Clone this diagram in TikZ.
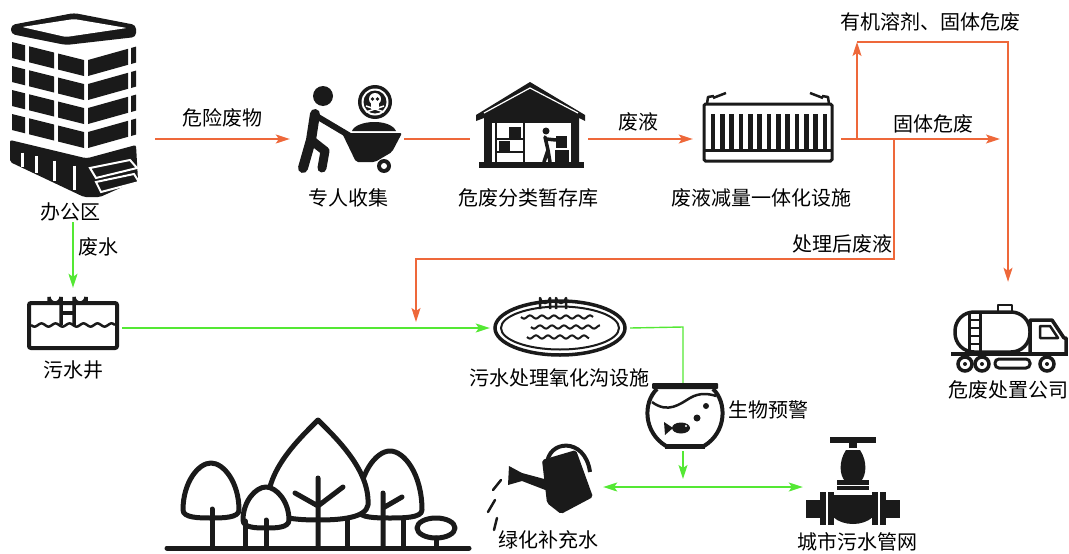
\documentclass[tikz,border=0pt]{standalone}
\usepackage{fontspec}
\newfontfamily\cjk{Noto Sans CJK SC}
\usetikzlibrary{arrows.meta}
\definecolor{hazorange}{RGB}{238,104,58}
\definecolor{wwgreen}{RGB}{84,232,52}
\definecolor{inkblack}{RGB}{26,26,26}
\tikzstyle{port} = [minimum height=10, inner sep=0]
\tikzstyle{caption} = [font=\cjk\fontsize{20}{24}\selectfont, inner sep=0]
\tikzstyle{hazline} = [draw=hazorange, line width=1.4]
\tikzstyle{hazarrow} = [hazline, -{Stealth[length=14pt,width=9pt,inset=3pt]}]
\tikzstyle{wwline} = [draw=wwgreen, line width=1.4]
\tikzstyle{wwarrow} = [wwline, -{Stealth[length=14pt,width=9pt,inset=3pt]}]
\tikzstyle{outline} = [draw=inkblack, line width=3.5, line join=round, line cap=round]
\tikzstyle{treeline} = [draw=inkblack, line width=5, line join=round, line cap=round]
\newcommand{\crown}[4]{\draw[treeline, fill=white] ({#1-#4},{#3-8}) .. controls ({#1-#4},{#2+0.35*(#3-#2)}) and ({#1-0.45*#4},#2) .. (#1,#2) .. controls ({#1+0.45*#4},#2) and ({#1+#4},{#2+0.35*(#3-#2)}) .. ({#1+#4},{#3-8}) .. controls ({#1+#4},#3) and ({#1+0.4*#4},#3) .. (#1,#3) .. controls ({#1-0.4*#4},#3) and ({#1-#4},#3) .. cycle;}

\begin{document}
\begin{tikzpicture}[x=1pt, y=-1pt]
\useasboundingbox (0,0) rectangle (1069,554);

\node (office)[port, minimum width=160] at (75,139) {};
\node (collect)[port, minimum width=114] at (347,139) {};
\node (store)[port, minimum width=118] at (529,139) {};
\node (reducer)[port, minimum width=148] at (767,139) {};
\node (truck)[port, minimum width=118, minimum height=96] at (1008,330) {};
\node (well)[port, minimum width=98, minimum height=80] at (73,328) {};
\node (ditch)[port, minimum width=140] at (560,328) {};
\node (fish)[port, minimum width=70, minimum height=68] at (683,417) {};
\node (can)[port, minimum width=116] at (545,487) {};
\node (valve)[port, minimum width=100] at (853,487) {};

\coordinate (upturn) at (857,139);
\coordinate (downturn) at (894,139);
\coordinate (solidend) at (1000,139);
\coordinate (organictop) at (857,42);
\coordinate (organicright) at (1008,42);
\coordinate (backleft) at (416,259);
\coordinate (backend) at (416,322);
\coordinate (officefoot) at (73,222);
\coordinate (fishturn) at (683,327);
\coordinate (splittop) at (683,479);

\draw[hazarrow] (office.east) -- (collect.west);
\draw[hazline] (collect.east) -- (store.west);
\draw[hazarrow] (store.east) -- (reducer.west);
\draw[hazarrow] (reducer.east) -- (solidend);
\draw[hazarrow] (upturn) -- (organictop);
\draw[hazarrow] (organictop) -- (organicright) -- (truck.north);
\draw[hazarrow] (downturn) -- (downturn |- backleft) -- (backleft) -- (backend);
\draw[wwarrow] (officefoot) -- (well.north);
\draw[wwarrow] (well.east) -- (ditch.west);
\draw[wwline] (ditch.east) -- (fishturn) -- (fish.north);
\draw[wwarrow] (fish.south) -- (splittop);
\draw[wwline, {Stealth[length=14pt,width=9pt,inset=3pt]}-{Stealth[length=14pt,width=9pt,inset=3pt]}] (can.east) -- (valve.west);

\node (officelabel)[caption] at (70,212) {办公区};
\node (hazwastelabel)[caption] at (222,118) {危险废物};
\node (wastewaterlabel)[caption] at (98,247) {废水};
\node (collectlabel)[caption] at (348,198) {专人收集};
\node (storelabel)[caption] at (528,198) {危废分类暂存库};
\node (liquidlabel)[caption] at (638,122) {废液};
\node (reducerlabel)[caption] at (761,198) {废液减量一体化设施};
\node (organiclabel)[caption] at (930,22) {有机溶剂、固体危废};
\node (solidlabel)[caption] at (933,124) {固体危废};
\node (treatedlabel)[caption] at (842,244) {处理后废液};
\node (welllabel)[caption] at (73,370) {污水井};
\node (ditchlabel)[caption] at (559,378) {污水处理氧化沟设施};
\node (fishlabel)[caption] at (768,410) {生物预警};
\node (canlabel)[caption] at (548,540) {绿化补充水};
\node (valvelabel)[caption] at (857,542) {城市污水管网};
\node (trucklabel)[caption] at (1008,390) {危废处置公司};

\fill[inkblack, rounded corners=4] (11,25) -- (74,13) -- (136,25) -- (136,37) -- (66,45) -- (11,34) -- cycle;
\fill[white, rounded corners=2] (22,27) -- (74,19) -- (127,28) -- (66,37) -- cycle;
\foreach \t in {42,66,90,114} {
  \fill[inkblack] (12,\t) -- (25,{\t+3.25}) -- (25,{\t+19.25}) -- (12,{\t+16}) -- cycle;
  \fill[inkblack] (29,{\t+4.25}) -- (54,{\t+10.5}) -- (54,{\t+26.5}) -- (29,{\t+20.25}) -- cycle;
  \fill[inkblack] (58,{\t+11.5}) -- (84,{\t+18}) -- (84,{\t+34}) -- (58,{\t+27.5}) -- cycle;
  \fill[inkblack] (88,{\t+18}) -- (128,{\t+6.8}) -- (128,{\t+22.8}) -- (88,{\t+34}) -- cycle;
  \fill[inkblack] (131,{\t+6}) -- (136,{\t+4.6}) -- (136,{\t+20.6}) -- (131,{\t+22}) -- cycle;
}
\fill[inkblack, rounded corners=2] (10,140) -- (85,158) -- (88,158) -- (136,145) -- (138,180) -- (100,197) -- (84,197) -- (10,162) -- cycle;
\foreach \x in {22,36,54,74}
  \draw[white, line width=3] (\x,{150+0.25*(\x-12)}) -- ++(0,{12+0.2*(\x-12)});
\draw[white, line width=2, fill=inkblack] (90,168) -- (130,160) -- (137,168) -- (96,178) -- cycle;
\draw[white, line width=2, fill=inkblack] (96,182) -- (134,174) -- (139,182) -- (101,192) -- cycle;

\fill[inkblack] (323,96) circle[radius=10];
\draw[inkblack, line width=10, line cap=round, line join=round] (315,114) -- (311,140) -- (303,168);
\draw[inkblack, line width=9, line cap=round, line join=round] (311,140) -- (325,151) -- (322,168);
\draw[inkblack, line width=6, line cap=round] (318,117) -- (350,136);
\fill[inkblack, rounded corners=2] (342,133) -- (402,133) -- (392,152) -- (375,162) -- (356,162) -- cycle;
\fill[inkblack] (384,166) circle[radius=7];
\fill[white] (384,166) circle[radius=3];
\fill[inkblack] (352,131) .. controls (356,120) and (390,118) .. (396,131) -- cycle;
\fill[inkblack] (375,102) circle[radius=17];
\fill[white] (375,102) circle[radius=13.5];
\fill[inkblack] (375,102) circle[radius=11.5];
\fill[white] (375,99) circle[radius=6];
\fill[white] (371,103) rectangle (379,109);
\fill[inkblack] (372.5,99) circle[radius=1.8];
\fill[inkblack] (377.5,99) circle[radius=1.8];
\draw[white, line width=1.5] (366,106) -- (384,112) (366,112) -- (384,106);

\fill[inkblack] (476,115) -- (530,82) -- (585,115) -- (585,121) -- (579,118) -- (579,163) -- (484,163) -- (484,118) -- (476,121) -- cycle;
\fill[white] (492,123) rectangle (571,162);
\draw[white, line width=1.2] (484,113) -- (530,88) -- (578,113);
\fill[inkblack] (479,162) rectangle (584,168);
\draw[inkblack, line width=2] (496,123) -- (496,162) (524,123) -- (524,162) (496,139) -- (524,139) (496,152) -- (524,152);
\fill[inkblack] (509,127) rectangle (521,138);
\fill[inkblack] (499,141) rectangle (510,151);
\fill[inkblack] (546,131) circle[radius=3.5];
\draw[inkblack, line width=3.5, line cap=round, line join=round] (545,137) -- (548,150) -- (544,162) (548,150) -- (550,162) (546,139) -- (556,140);
\fill[inkblack] (556,136) rectangle (567,148);
\fill[inkblack] (555,150) rectangle (569,162);

\draw[inkblack, line width=3, rounded corners=1.5] (704,104) rectangle (832,161);
\draw[inkblack, line width=3] (704,150) -- (832,150);
\foreach \i in {0,...,12}
  \draw[inkblack, line width=4.5] ({713+9.33*\i},114) -- ({713+9.33*\i},150);
\draw[inkblack, line width=2.5, line join=round] (707,104) -- (708,97) -- (714,96) (713,98) -- (726,93);
\draw[inkblack, line width=2.5, line join=round] (829,104) -- (828,97) -- (822,96) (823,98) -- (810,93);

\draw[inkblack, line width=4, rounded corners=2] (29,303) rectangle (117,348);
\draw[inkblack, line width=3.5] (49,303) -- (49,297) arc[start angle=180, end angle=0, radius=6] -- (61,325);
\draw[inkblack, line width=3.5] (74,325) -- (74,297) arc[start angle=180, end angle=0, radius=6] -- (86,303);
\draw[inkblack, line width=3.5] (61,313) -- (74,313);
\draw[inkblack, line width=2.5] plot[domain=31:115, samples=80] (\x,{325+1.6*sin((\x-31)*25.7)});

\draw[inkblack, line width=3.5, fill=white] (560,328) ellipse[x radius=65, y radius=27];
\draw[inkblack, line width=2] (560,328) ellipse[x radius=59, y radius=21.5];
\draw[inkblack, line width=2.5, line join=round] (540,309) -- (540,298) arc[start angle=180, end angle=0, radius=5] -- (550,309);
\draw[inkblack, line width=2.5, line join=round] (556,309) -- (556,298) arc[start angle=180, end angle=0, radius=5] -- (566,309);
\draw[inkblack, line width=2] plot[domain=521:593, samples=60] (\x,{317+1.6*sin((\x-521)*30)});
\draw[inkblack, line width=2] plot[domain=531:600, samples=60] (\x,{327+1.6*sin((\x-531)*30)});
\draw[inkblack, line width=2] plot[domain=527:589, samples=60] (\x,{337+1.6*sin((\x-527)*30)});

\fill[inkblack, rounded corners=1] (652,383) rectangle (718,389);
\draw[inkblack, line width=4] (657,389) .. controls (643,402) and (643,432) .. (666,446) -- (704,446) .. controls (727,432) and (727,402) .. (713,389);
\fill[inkblack] (665,444) rectangle (705,449);
\draw[inkblack, line width=2.5] (652,402) .. controls (668,414) and (680,404) .. (690,398) .. controls (700,392) and (710,394) .. (716,396);
\fill[inkblack] (681,428) ellipse[x radius=9, y radius=5.5];
\fill[inkblack] (673,428) -- (664,422) -- (665,435) -- cycle;
\fill[white] (686,426) circle[radius=1.2];
\fill[inkblack] (706,406) circle[radius=3];
\fill[inkblack] (697,418) circle[radius=3.5];

\draw[inkblack, line width=4] (547,465) .. controls (547,440) and (585,436) .. (590,472);
\fill[inkblack, rounded corners=2] (542,460) -- (576,450) -- (593,497) -- (561,514) -- (547,503) -- cycle;
\fill[inkblack] (548,480) -- (522,473) -- (509,466) -- (508,485) -- (522,481) -- (548,491) -- cycle;
\draw[inkblack, line width=2.5, line cap=round] (493,490) -- (501,480) (488,512) -- (495,500) (494,530) -- (497,518);

\fill[inkblack] (830,437) rectangle (876,443);
\fill[inkblack] (849,443) rectangle (857,448);
\fill[inkblack] (846,450) .. controls (838,462) and (840,476) .. (845,481) -- (861,481) .. controls (866,476) and (868,462) .. (860,450) -- cycle;
\fill[inkblack] (837,480) rectangle (869,490);
\draw[white, line width=1] (837,485) -- (869,485);
\fill[inkblack] (826,495) -- (880,495) .. controls (882,515) and (868,524) .. (853,524) .. controls (838,524) and (824,515) .. cycle;
\fill[inkblack] (806,500) rectangle (900,518);
\fill[inkblack] (820,492) rectangle (834,525);
\fill[inkblack] (872,492) rectangle (886,525);
\draw[white, line width=1.2] (827,492) -- (827,525) (879,492) -- (879,525);

\draw[outline, rounded corners=19] (955,312) rectangle (1030,352);
\draw[inkblack, line width=3] (969,313) -- (969,351) (980,313) -- (980,351);
\foreach \y in {320,328,336,344}
  \draw[inkblack, line width=2.5] (969,\y) -- (980,\y);
\draw[outline, line width=2.5] (998,312) -- (998,305) -- (1012,305) -- (1012,312);
\draw[outline] (1030,352) -- (1030,320) -- (1052,320) -- (1064,338) -- (1066,338) -- (1066,354);
\draw[outline, line width=2.5] (1040,326) -- (1050,326) -- (1058,338) -- (1040,338) -- cycle;
\draw[inkblack, line width=4] (951,354) -- (1068,354);
\foreach \x in {965,982,1047} {
  \draw[inkblack, line width=3.5, fill=white] (\x,364) circle[radius=7];
  \fill[inkblack] (\x,364) circle[radius=2];
}
\draw[inkblack, line width=3, rounded corners=4] (995,359) rectangle (1030,368);

\crown{390}{451}{518}{32}
\draw[treeline, fill=white] (268,505) .. controls (266,470) and (300,438) .. (318,420) .. controls (336,438) and (370,470) .. (368,505) .. controls (366,518) and (340,520) .. (318,520) .. controls (296,520) and (270,518) .. cycle;
\crown{211}{463}{518}{28}
\crown{266}{487}{528}{23}
\draw[treeline, fill=white] (436,528) ellipse[x radius=19, y radius=10];
\draw[treeline] (212,509) -- (212,548) (245,521) -- (245,548) (266,520) -- (266,548) (347,520) -- (347,548) (403,520) -- (403,548) (436,538) -- (436,548);
\draw[treeline] (318,478) -- (318,548) (295,493) -- (318,506) -- (343,487);
\draw[treeline] (383,493) -- (383,548) (383,508) -- (402,497);
\draw[treeline] (167,548) -- (469,548);
\end{tikzpicture}
\end{document}
